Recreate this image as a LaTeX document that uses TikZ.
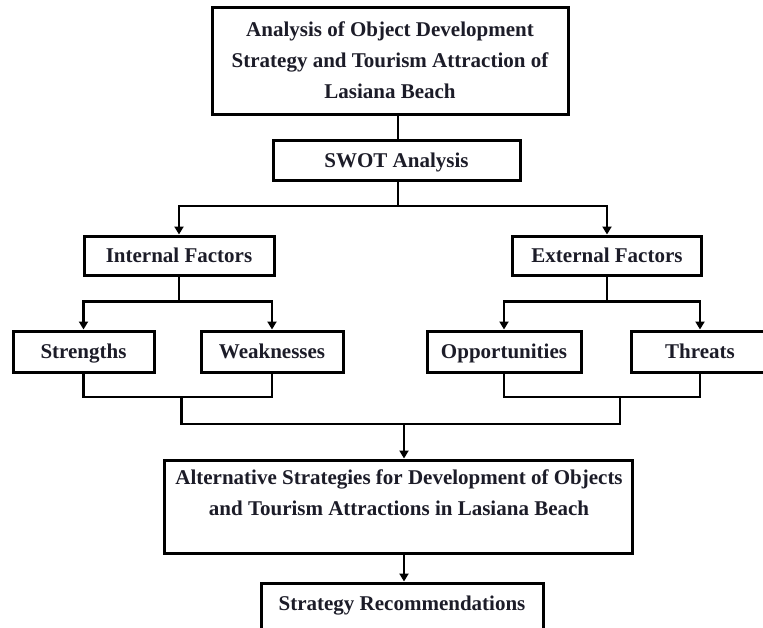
\documentclass[tikz,border=0pt]{standalone}
\usepackage{fontspec}
\setmainfont{Liberation Serif}
\usetikzlibrary{arrows.meta}
\definecolor{txt}{RGB}{28,28,40}
\tikzset{
  boxn/.style={draw=black, line width=3pt, fill=white, inner sep=0pt, align=center,
    text=txt, font=\bfseries\fontsize{21}{31}\selectfont},
  onebox/.style={boxn, text height=14pt, text depth=0pt},
  conn/.style={draw=black, line width=2.6pt},
  arr/.style={conn, -{Triangle[width=9pt,length=8pt]}},
}
\begin{document}
\begin{tikzpicture}[x=1pt,y=-1pt]
\useasboundingbox (0,0) rectangle (763,627);
\node[boxn, minimum width=356pt, minimum height=107pt] (top) at (390,60.5)
  {Analysis of Object Development\\Strategy and Tourism Attraction of\\Lasiana Beach};
\node[onebox, minimum width=247pt, minimum height=40pt] (swot) at (396.5,160) {SWOT Analysis};
\node[onebox, minimum width=190pt, minimum height=39pt] (internal) at (179,255.5) {Internal Factors};
\node[onebox, minimum width=189pt, minimum height=39pt] (external) at (607,255.5) {External Factors};
\node[onebox, minimum width=141pt, minimum height=41pt] (strengths) at (83.5,351.5) {Strengths};
\node[onebox, minimum width=142pt, minimum height=41pt] (weak) at (272,351.5) {Weaknesses};
\node[onebox, minimum width=154pt, minimum height=41pt] (opp) at (504,351.5) {Opportunities};
\node[onebox, minimum width=138pt, minimum height=41pt] (threats) at (700,351.5) {Threats};
\node[boxn, minimum width=468pt, minimum height=93pt] (alt) at (398,506.5) {};
\node[align=center, text=txt, font=\bfseries\fontsize{21}{31}\selectfont, anchor=north, inner sep=0pt]
  (alttext) at (399,470) {Alternative Strategies for Development of Objects\\and Tourism Attractions in Lasiana Beach};
\node[boxn, minimum width=282pt, minimum height=50pt] (rec) at (402,608) {};
\node[text=txt, font=\bfseries\fontsize{21}{31}\selectfont, inner sep=0pt, text height=14pt, text depth=0pt]
  (rectext) at (402,603.5) {Strategy Recommendations};

\coordinate (j0) at (398,206);
\coordinate (jL) at (181.5,397);
\coordinate (jR) at (620,397);
\coordinate (jB) at (404,424);

\draw[conn] (top.south -| j0) -- (swot.north -| j0);
\draw[conn] (swot.south -| j0) -- (j0);
\draw[arr] (j0) -| (internal.north);
\draw[arr] (j0) -| (external.north);

\draw[conn] (internal.south) -- ++(0,25) coordinate (ji);
\draw[arr] (ji) -| (strengths.north);
\draw[arr] (ji) -| (weak.north);
\draw[conn] (external.south) -- ++(0,25) coordinate (je);
\draw[arr] (je) -| (opp.north);
\draw[arr] (je) -| (threats.north);

\draw[conn] (strengths.south) |- (jL) -| (weak.south);
\draw[conn] (opp.south) |- (jR) -| (threats.south);
\draw[conn] (jL) -- (jL |- jB) -- (jR |- jB) -- (jR);
\draw[arr] (jB) -- (alt.north -| jB);
\draw[arr] (alt.south -| jB) -- (rec.north -| jB);
\end{tikzpicture}
\end{document}
